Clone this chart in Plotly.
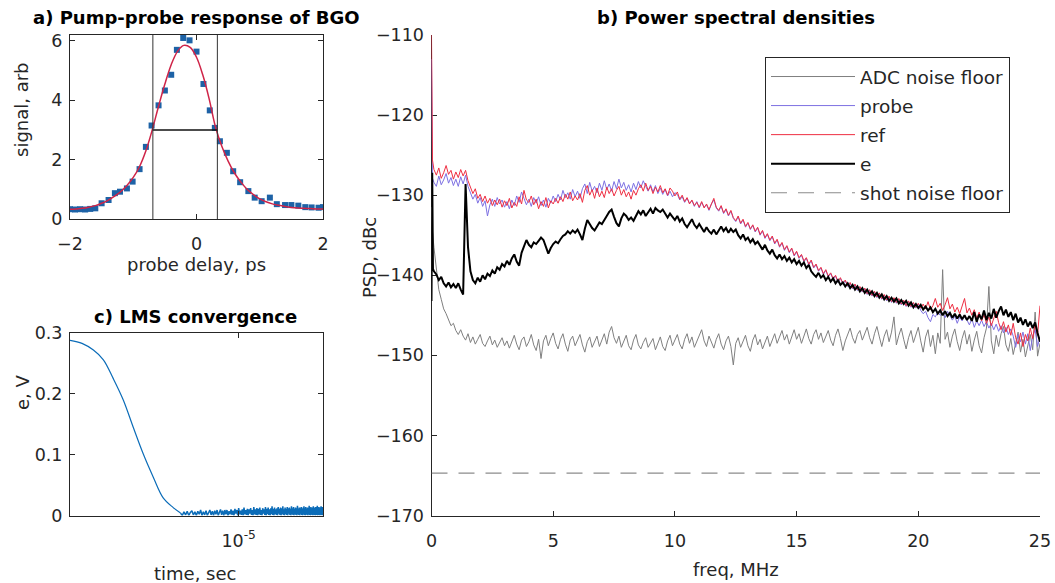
import numpy as np
import plotly.graph_objects as go

# ---------------- Panel a: pump-probe response ----------------
delay_ps = [-2.0, -1.92, -1.84, -1.76, -1.68, -1.6, -1.5, -1.39, -1.29, -1.21,
            -1.10, -1.01, -0.90, -0.80, -0.71, -0.60, -0.50, -0.40, -0.31, -0.21,
            -0.11, 0.0, 0.11, 0.21, 0.29, 0.37, 0.48, 0.58, 0.69, 0.82,
            0.92, 1.03, 1.16, 1.27, 1.40, 1.50, 1.61, 1.72, 1.82, 1.93, 2.0]
signal_arb = [0.33, 0.32, 0.33, 0.32, 0.34, 0.36, 0.53, 0.64, 0.87, 0.92,
              1.03, 1.26, 1.68, 2.43, 3.15, 3.83, 4.33, 4.86, 5.70, 6.10,
              6.02, 5.64, 4.55, 3.66, 3.07, 2.62, 2.23, 1.61, 1.24, 0.94,
              0.72, 0.60, 0.72, 0.50, 0.47, 0.47, 0.45, 0.40, 0.39, 0.38, 0.40]
fit_delay = [round(-2.0 + 0.1 * i, 1) for i in range(41)]
fit_signal = [0.33, 0.34, 0.36, 0.40, 0.45, 0.53, 0.63, 0.76, 0.92, 1.13,
              1.40, 1.77, 2.30, 3.00, 3.80, 4.55, 5.20, 5.65, 5.85, 5.78,
              5.45, 4.85, 4.05, 3.10, 2.45, 1.95, 1.55, 1.25, 1.00, 0.82,
              0.68, 0.58, 0.51, 0.46, 0.42, 0.39, 0.37, 0.36, 0.35, 0.34, 0.34]
fwhm_left = -0.69
fwhm_right = 0.33
half_max = 3.0

# ---------------- Panel c: LMS convergence ----------------
lms_t_head = [1.585e-6, 1.807e-6, 2.046e-6, 2.282e-6, 2.543e-6, 2.836e-6,
              3.162e-6, 3.529e-6, 3.936e-6, 4.385e-6, 4.893e-6, 5.3e-6]
lms_e_head = [0.288, 0.283, 0.272, 0.256, 0.225, 0.190,
              0.145, 0.101, 0.063, 0.029, 0.013, 0.004]
lms_noise_t0 = 5.3e-6
lms_noise_t1 = 2.52e-5
lms_noise_e = [
    0.004, 0.000, 0.006, 0.001, 0.007, 0.000, 0.005, 0.008, 0.001, 0.006,
    0.000, 0.007, 0.002, 0.009, 0.000, 0.006, 0.001, 0.008, 0.000, 0.005,
    0.009, 0.001, 0.007, 0.000, 0.008, 0.002, 0.009, 0.000, 0.006, 0.010,
    0.001, 0.008, 0.000, 0.009, 0.002,
    0.009, 0.000, 0.007, 0.002, 0.010, 0.001, 0.008, 0.000, 0.011, 0.003,
    0.009, 0.000, 0.012, 0.002, 0.008, 0.001, 0.010, 0.000, 0.013, 0.002,
    0.009, 0.001, 0.011, 0.000, 0.010, 0.003, 0.012, 0.001, 0.009, 0.000,
    0.014, 0.002, 0.010, 0.001, 0.012, 0.000, 0.011, 0.002, 0.013, 0.001,
    0.009, 0.000, 0.012, 0.003, 0.010, 0.001, 0.014, 0.000, 0.011, 0.002,
    0.013, 0.001, 0.010, 0.000, 0.012, 0.002, 0.015, 0.001, 0.011, 0.000,
    0.013, 0.002, 0.010, 0.001, 0.012, 0.000, 0.014, 0.003, 0.011, 0.001,
    0.013, 0.000, 0.012, 0.002, 0.015, 0.001, 0.010, 0.000, 0.013, 0.002,
    0.011, 0.001, 0.014, 0.000, 0.012, 0.003, 0.013, 0.001, 0.011, 0.000,
    0.015, 0.002, 0.012, 0.001, 0.014, 0.000, 0.011, 0.002, 0.013, 0.001,
    0.012, 0.000, 0.016, 0.002, 0.011, 0.001, 0.013, 0.000, 0.012, 0.003,
    0.014, 0.001, 0.011, 0.000, 0.013, 0.002, 0.015, 0.001, 0.012, 0.000,
    0.014, 0.002, 0.011, 0.001, 0.013, 0.000, 0.012, 0.003, 0.016, 0.001,
    0.012, 0.000, 0.014, 0.002, 0.011, 0.001, 0.013, 0.000, 0.015, 0.002,
    0.012, 0.001, 0.013, 0.000, 0.014, 0.002, 0.011, 0.001, 0.016, 0.000,
    0.012, 0.002, 0.014, 0.001, 0.013, 0.000, 0.012, 0.003, 0.015, 0.001,
    0.013, 0.000, 0.014, 0.002, 0.012]

# ---------------- Panel b: power spectral densities ----------------
freq_mhz = [round(0.1 * (i + 1), 1) for i in range(250)]

ref_lo_f = [0.0, 0.04]
ref_lo = [-110.0, -125.6]
ref_psd = [
    -126.8, -127.5, -126.6, -127.9, -127.2, -126.3, -127.4, -126.9, -128.0, -127.1,
    -127.8, -126.8, -127.6, -126.9, -128.2, -129.0, -129.8, -129.2, -130.4, -129.9,
    -130.8, -130.1, -131.0, -130.4, -131.3, -130.6, -131.2, -130.5, -131.5, -130.7,
    -131.3, -130.4, -131.6, -130.9, -131.4, -130.2, -131.1, -129.4, -130.6, -130.9,
    -130.1, -131.2, -130.5, -131.7, -130.8, -131.4, -130.3, -131.6, -130.7, -131.1,
    -130.4, -131.0, -130.2, -130.8, -129.9, -130.5, -129.6, -130.7, -130.1, -130.6,
    -129.8, -130.9, -129.4, -128.8, -130.0, -129.3, -130.4, -129.1, -130.2, -129.5,
    -130.3, -129.0, -129.8, -129.2, -130.1, -129.4, -128.9, -130.0, -129.3, -130.2,
    -129.6, -130.5, -129.4, -130.0, -129.2, -128.7, -129.5, -128.5, -129.4, -128.9,
    -129.8, -129.0, -129.6, -128.8, -129.7, -129.2, -130.0, -129.1, -129.5, -130.1,
    -129.6, -130.5, -130.0, -130.8, -130.3, -131.1, -130.6, -131.3, -130.9, -131.5,
    -130.8, -131.6, -131.1, -131.8, -131.2, -130.4, -131.5, -131.9, -131.3, -132.2,
    -131.7, -132.5, -131.9, -132.8, -133.2, -132.6, -133.5, -133.0, -133.9, -133.4,
    -134.2, -133.7, -134.5, -134.0, -134.9, -134.4, -135.3, -134.8, -135.6, -135.1,
    -136.0, -135.5, -136.4, -135.9, -136.8, -136.3, -137.1, -136.6, -137.5, -137.0,
    -137.8, -137.4, -138.2, -137.8, -138.6, -138.1, -139.0, -138.6, -139.4, -139.0,
    -139.8, -139.3, -140.1, -139.7, -140.4, -140.0, -140.8, -140.3, -141.0, -140.6,
    -141.3, -140.9, -141.6, -141.1, -141.8, -141.4, -142.0, -141.6, -142.3, -141.8,
    -142.5, -142.0, -142.7, -142.2, -142.9, -142.4, -143.1, -142.6, -143.3, -142.8,
    -143.4, -142.9, -143.6, -143.1, -143.8, -143.2, -143.9, -143.4, -144.0, -143.5,
    -144.1, -143.6, -144.2, -143.3, -144.3, -143.8, -142.9, -144.0, -143.5, -144.4,
    -143.7, -142.8, -144.2, -143.6, -144.6, -144.0, -144.8, -143.9, -142.9, -144.7,
    -144.1, -145.0, -144.3, -145.4, -144.6, -145.7, -144.9, -146.0, -145.2, -146.3,
    -145.4, -144.5, -145.9, -146.8, -145.8, -147.1, -146.2, -147.5, -146.0, -147.8,
    -148.6, -147.2, -148.9, -147.4, -148.2, -146.6, -147.9, -146.1, -147.5, -143.8]

probe_lo_f = [0.0, 0.04]
probe_lo = [-113.0, -127.9]
probe_psd = [
    -128.4, -128.9, -127.6, -128.7, -128.1, -127.3, -128.5, -127.8, -128.8, -128.0,
    -128.9, -127.7, -128.6, -127.5, -128.9, -129.6, -130.5, -129.9, -131.0, -130.3,
    -131.4, -130.7, -132.6, -131.2, -130.5, -131.4, -130.3, -131.1, -130.6, -131.5,
    -130.8, -131.7, -130.6, -131.3, -130.1, -130.9, -129.6, -130.4, -131.2, -130.5,
    -131.4, -130.3, -131.0, -130.2, -131.3, -130.6, -131.5, -130.4, -131.0, -130.1,
    -130.8, -129.9, -130.6, -129.4, -130.3, -129.7, -130.5, -129.3, -130.2, -129.5,
    -130.4, -129.2, -128.6, -129.8, -128.4, -129.5, -128.9, -129.7, -128.5, -129.4,
    -128.2, -129.3, -128.6, -129.5, -128.3, -129.2, -128.0, -129.1, -128.4, -129.4,
    -128.7, -129.6, -128.5, -129.3, -128.3, -129.1, -128.2, -128.9, -129.5, -128.7,
    -129.6, -128.8, -129.8, -129.1, -129.9, -129.3, -130.1, -129.5, -130.2, -129.7,
    -129.9, -130.6, -130.2, -130.9, -130.4, -131.0, -130.7, -131.4, -130.8, -131.6,
    -130.9, -131.5, -131.2, -131.9, -131.1, -130.6, -131.6, -132.0, -131.4, -132.3,
    -131.8, -132.6, -132.0, -132.9, -133.3, -132.7, -133.6, -133.1, -134.0, -133.5,
    -134.3, -133.8, -134.6, -134.1, -135.0, -134.5, -135.4, -134.9, -135.7, -135.2,
    -136.1, -135.6, -136.5, -136.0, -136.9, -136.4, -137.2, -136.7, -137.6, -137.1,
    -137.9, -137.5, -138.3, -137.9, -138.7, -138.2, -139.1, -138.7, -139.5, -139.1,
    -139.9, -139.4, -140.2, -139.8, -140.5, -140.1, -140.9, -140.4, -141.1, -140.7,
    -141.4, -141.0, -141.7, -141.2, -141.9, -141.5, -142.1, -141.7, -142.4, -141.9,
    -142.6, -142.1, -142.8, -142.3, -143.0, -142.5, -143.2, -142.7, -143.4, -142.9,
    -143.5, -143.0, -143.7, -143.2, -143.9, -143.3, -144.0, -143.5, -144.1, -143.6,
    -144.4, -144.8, -144.5, -145.3, -145.8, -144.9, -145.2, -144.6, -145.0, -144.7,
    -145.3, -144.5, -145.0, -145.6, -145.1, -146.0, -145.2, -145.7, -145.0, -145.6,
    -146.2, -145.4, -146.5, -145.7, -146.3, -145.6, -146.4, -145.8, -146.6, -146.0,
    -146.8, -146.1, -147.0, -146.3, -147.2, -146.5, -147.4, -146.7, -147.6, -149.0,
    -147.4, -148.3, -147.1, -148.6, -147.3, -149.4, -147.6, -146.8, -148.9, -147.7]

e_lo_f = [0.0, 0.03, 0.06]
e_lo = [-143.2, -127.2, -139.2]
e_psd = [
    -139.5, -139.9, -140.6, -140.2, -141.0, -141.4, -140.9, -141.5, -141.1, -141.6,
    -141.0, -141.8, -142.4, -128.6, -136.5, -139.5, -140.6, -141.0, -140.3, -140.8,
    -140.0, -140.5, -139.8, -140.1, -139.4, -139.8, -139.0, -139.3, -138.6, -138.9,
    -138.2, -138.7, -137.9, -137.4, -138.3, -138.8, -137.2, -136.4, -135.6, -136.2,
    -136.5, -135.9, -136.1, -135.7, -135.3, -135.6, -136.4, -137.3, -136.6, -136.1,
    -135.8, -136.0, -135.5, -135.1, -134.9, -134.5, -134.8, -134.4, -134.7, -134.3,
    -134.9, -135.6, -134.2, -133.1, -133.6, -134.1, -134.4, -133.9, -133.4, -133.6,
    -133.0, -132.6, -132.1, -131.8, -132.7, -133.5, -133.9, -132.9, -132.3, -132.6,
    -133.1, -132.8, -133.2, -132.5, -132.0, -132.4, -131.9, -132.6, -132.2, -131.7,
    -132.3, -131.6, -131.9, -132.1, -131.8, -132.4, -132.8, -132.3, -132.7, -133.1,
    -132.6, -133.3, -132.9, -133.6, -134.0, -133.5, -133.0, -133.7, -134.1, -133.6,
    -134.2, -134.6, -134.0, -134.5, -134.8, -134.3, -134.9, -134.4, -133.9, -134.5,
    -134.1, -134.7, -134.2, -134.6, -134.3, -135.0, -135.4, -134.9, -135.6, -135.3,
    -135.9, -135.5, -136.1, -135.8, -136.4, -136.8, -136.2, -136.9, -137.3, -136.8,
    -137.5, -137.9, -137.4, -138.0, -137.6, -138.2, -137.8, -138.4, -138.0, -138.6,
    -138.2, -138.8, -138.4, -139.1, -138.7, -139.5, -139.9, -140.2, -139.7, -140.3,
    -140.0, -140.6, -140.2, -140.8, -140.4, -141.0, -140.6, -141.2, -140.9, -141.4,
    -141.0, -141.6, -141.2, -141.8, -141.4, -142.0, -141.6, -142.2, -141.8, -142.4,
    -142.0, -142.6, -142.2, -142.8, -142.4, -143.0, -142.6, -143.2, -142.8, -143.3,
    -142.9, -143.5, -143.1, -143.6, -143.2, -143.8, -143.4, -144.0, -143.6, -144.1,
    -143.7, -144.3, -143.9, -144.4, -144.0, -144.6, -144.2, -144.8, -144.4, -145.0,
    -144.5, -145.1, -144.7, -145.3, -144.8, -145.4, -144.9, -145.5, -145.0, -145.6,
    -145.1, -145.7, -144.6, -145.8, -144.9, -145.5, -144.4, -145.6, -144.7, -145.4,
    -144.2, -145.3, -144.5, -143.9, -145.0, -144.3, -145.2, -144.6, -145.6, -144.8,
    -145.9, -145.3, -146.2, -145.5, -146.4, -145.8, -146.6, -145.9, -147.2, -148.3]

adc_lo_f = [0.0, 0.04]
adc_lo = [-131.5, -134.5]
adc_psd = [
    -136.5, -139.5, -141.8, -143.0, -144.2, -144.8, -145.6, -146.3, -146.0, -146.9,
    -147.4, -146.8, -147.6, -148.1, -147.3, -148.4, -147.7, -148.6, -148.0, -147.4,
    -148.5, -148.9, -148.2, -147.6, -148.7, -148.1, -149.0, -148.3, -147.8, -148.8,
    -148.2, -149.1, -148.4, -147.5, -148.6, -149.3, -148.1, -147.7, -148.9, -148.3,
    -147.4, -148.7, -149.4, -148.0, -150.4, -148.2, -147.5, -148.8, -147.9, -147.2,
    -148.5, -149.2, -148.0, -147.3, -148.6, -149.5, -148.1, -147.6, -148.8, -148.2,
    -147.4, -148.7, -149.6, -148.3, -147.7, -149.0, -148.4, -147.6, -148.9, -148.0,
    -147.3, -148.6, -147.1, -146.4, -147.8, -148.5, -147.6, -149.0, -148.3, -147.5,
    -148.8, -149.3, -148.1, -147.4, -148.7, -149.2, -148.4, -147.8, -149.0, -148.5,
    -147.9, -149.3, -148.6, -147.7, -148.9, -149.4, -148.2, -147.5, -148.8, -148.1,
    -147.4, -148.6, -149.2, -148.0, -147.3, -148.5, -147.7, -149.0, -148.3, -147.5,
    -146.8, -148.2, -148.9, -147.6, -148.4, -149.1, -148.0, -147.3, -148.6, -149.3,
    -148.2, -147.6, -148.9, -151.2, -148.5, -147.8, -149.0, -148.3, -147.5, -148.8,
    -149.5, -148.1, -147.4, -148.7, -148.0, -149.2, -148.4, -147.6, -148.9, -148.2,
    -147.3, -148.5, -147.8, -146.9, -148.1, -147.4, -148.6, -147.7, -146.8, -148.0,
    -147.3, -148.5, -147.6, -146.7, -147.9, -148.6, -147.4, -146.8, -148.0, -147.2,
    -148.4, -147.6, -146.9, -148.1, -148.8, -147.5, -146.7, -147.9, -149.4, -148.2,
    -147.3, -146.6, -147.8, -148.5, -147.4, -146.9, -148.1, -147.2, -146.5, -147.8,
    -148.6, -147.3, -146.4, -147.7, -148.9, -147.6, -146.8, -148.3, -147.1, -145.2,
    -148.7, -147.5, -146.6, -148.0, -149.2, -147.8, -146.9, -148.4, -147.4, -146.5,
    -148.2, -149.6, -147.7, -146.8, -148.9, -147.5, -149.8, -147.2, -148.5, -139.3,
    -148.0, -147.1, -149.0, -147.6, -146.7, -148.3, -149.4, -147.9, -146.9, -148.6,
    -147.4, -149.5, -148.1, -147.0, -148.8, -149.7, -147.8, -146.6, -141.4, -148.2,
    -149.8, -147.5, -148.9, -147.3, -146.4, -148.7, -149.5, -147.9, -149.9, -148.4,
    -147.1, -149.6, -148.0, -150.2, -148.6, -147.4, -149.3, -144.6, -150.1, -148.5]

shot_f = [0.0, 25.0]
shot_psd = [-164.7, -164.7]

# ---------------- styling ----------------
FONT = "DejaVu Sans"
AX = "#262626"
W, H = 1055, 583


def px_x(p):
    return p / W


def px_y(p):
    return 1 - p / H


fig = go.Figure()

# Panel a traces
fig.add_trace(go.Scatter(x=delay_ps, y=signal_arb, mode="markers",
                         marker=dict(symbol="square", size=6, color="#1d62a6"),
                         xaxis="x", yaxis="y", showlegend=False))
fig.add_trace(go.Scatter(x=fit_delay, y=fit_signal, mode="lines",
                         line=dict(color="#cf2448", width=1.5, shape="spline"),
                         xaxis="x", yaxis="y", showlegend=False))
fig.add_trace(go.Scatter(x=[fwhm_left, fwhm_right], y=[half_max, half_max], mode="lines",
                         line=dict(color="#111111", width=1.6),
                         xaxis="x", yaxis="y", showlegend=False))
for xv in (fwhm_left, fwhm_right):
    fig.add_shape(type="line", xref="x", yref="y domain", x0=xv, x1=xv, y0=0, y1=1,
                  line=dict(color="#333333", width=1))

# Panel b traces
series_b = [
    ("ADC noise floor", adc_lo_f + freq_mhz, adc_lo + adc_psd, dict(color="#7f7f7f", width=1)),
    ("probe", probe_lo_f + freq_mhz, probe_lo + probe_psd, dict(color="#7d70e2", width=1)),
    ("ref", ref_lo_f + freq_mhz, ref_lo + ref_psd, dict(color="#ee2e42", width=1)),
    ("e", e_lo_f + freq_mhz, e_lo + e_psd, dict(color="#000000", width=2)),
    ("shot noise floor", shot_f, shot_psd, dict(color="#8c8c8c", width=1.2, dash="16px,11px")),
]
for name, xs, ys, ln in series_b:
    fig.add_trace(go.Scatter(x=xs, y=ys, mode="lines", name=name, line=ln,
                             legendgroup=name, xaxis="x2", yaxis="y2"))

# Panel c traces
lms_t_noise = list(np.linspace(lms_noise_t0, lms_noise_t1, len(lms_noise_e)))
fig.add_trace(go.Scatter(x=lms_t_head, y=lms_e_head, mode="lines",
                         line=dict(color="#0b6cb8", width=1.2, shape="spline"),
                         xaxis="x3", yaxis="y3", showlegend=False))
fig.add_trace(go.Scatter(x=lms_t_noise, y=lms_noise_e, mode="lines",
                         line=dict(color="#0b6cb8", width=1.5),
                         xaxis="x3", yaxis="y3", showlegend=False))

tickfont = dict(family=FONT, size=17.5, color=AX)
common = dict(showline=True, linecolor=AX, linewidth=1, ticks="inside", ticklen=5,
              tickcolor=AX, tickfont=tickfont, showgrid=False, zeroline=False,
              automargin=False)
xcommon = dict(ticklabelstandoff=9, **common)
ycommon = dict(ticklabelstandoff=3, **common)

xa_dom = [px_x(70), px_x(323)]
xb_dom = [px_x(431.5), px_x(1040)]
ya_dom = [px_y(219), px_y(35)]
yc_dom = [px_y(515.5), px_y(333)]
yb_dom = [px_y(515.5), px_y(35)]

fig.update_layout(
    width=W, height=H,
    margin=dict(l=0, r=0, t=0, b=0, pad=0, autoexpand=False),
    paper_bgcolor="white", plot_bgcolor="white",
    font=dict(family=FONT, color=AX),
    xaxis=dict(domain=xa_dom, anchor="y", range=[-2, 2], tickvals=[-2, 0, 2],
               mirror="ticks", **xcommon),
    yaxis=dict(domain=ya_dom, anchor="x", range=[0, 6.2], tickvals=[0, 2, 4, 6],
               mirror="ticks", **ycommon),
    xaxis2=dict(domain=xb_dom, anchor="y2", range=[0, 25], tickvals=[0, 5, 10, 15, 20, 25],
                layer="below traces", **xcommon),
    yaxis2=dict(domain=yb_dom, anchor="x2", range=[-170, -110],
                tickvals=[-170, -160, -150, -140, -130, -120, -110],
                layer="below traces", **ycommon),
    xaxis3=dict(domain=xa_dom, anchor="y3", type="log", range=[-5.8, -4.6],
                tickvals=[1e-5], ticktext=["10<sup>-5</sup>"], mirror="ticks", **xcommon),
    yaxis3=dict(domain=yc_dom, anchor="x3", range=[0, 0.3], tickvals=[0, 0.1, 0.2, 0.3],
                mirror="ticks", **ycommon),
    legend=dict(x=px_x(765), y=px_y(57), xanchor="left", yanchor="top",
                bgcolor="white", bordercolor=AX, borderwidth=1,
                font=dict(family=FONT, size=18.5, color=AX),
                itemwidth=84, traceorder="grouped", tracegroupgap=2),
)

ann = []
title_font = dict(family=FONT, size=18, color="#000000", weight="bold")
label_font = dict(family=FONT, size=18, color=AX)
ann.append(dict(text="a) Pump-probe response of BGO", x=px_x(196), y=px_y(18),
                font=title_font))
ann.append(dict(text="b) Power spectral densities", x=px_x(736), y=px_y(18),
                font=title_font))
ann.append(dict(text="c) LMS convergence", x=px_x(195), y=px_y(316), font=title_font))
ann.append(dict(text="probe delay, ps", x=px_x(196.5), y=px_y(264), font=label_font))
ann.append(dict(text="time, sec", x=px_x(195), y=px_y(573), font=label_font))
ann.append(dict(text="freq, MHz", x=px_x(736), y=px_y(569), font=label_font))
ann.append(dict(text="signal, arb", x=px_x(22), y=px_y(110), textangle=-90, font=label_font))
ann.append(dict(text="e, V", x=px_x(22), y=px_y(392), textangle=-90, font=label_font))
ann.append(dict(text="PSD, dBc", x=px_x(370), y=px_y(258), textangle=-90, font=label_font))
for a in ann:
    a.update(xref="paper", yref="paper", showarrow=False, xanchor="center", yanchor="middle")
fig.update_layout(annotations=ann)

fig.write_html("out.html")
